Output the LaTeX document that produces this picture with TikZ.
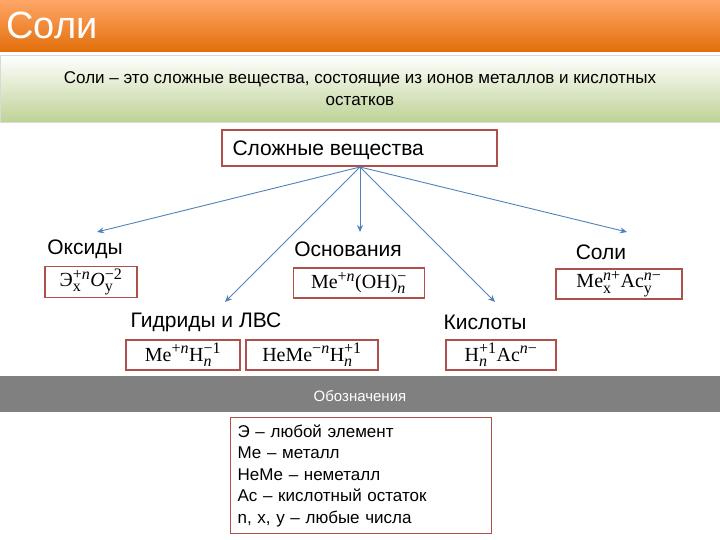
\documentclass[tikz,border=0pt]{standalone}
\usepackage{amsmath}
\usepackage{fontspec}
\setmainfont{Liberation Sans}
\newfontfamily\fmla{Liberation Serif}
\usetikzlibrary{arrows.meta}
\definecolor{bred}{HTML}{B0504D}
\definecolor{ablue}{HTML}{4F81BD}
\newcommand{\su}[2]{$^{\text{\fmla\fontsize{16}{16}\selectfont #1}}_{\text{\fmla\fontsize{16}{16}\selectfont #2}}$}
\begin{document}
\begin{tikzpicture}[x=1pt,y=-1pt,
  fbox/.style={draw=bred,line width=1.2pt,fill=white,font=\fmla\fontsize{20}{22}\selectfont,inner sep=2pt,minimum height=30},
  lab/.style={font=\fontsize{21}{23}\selectfont},
  arr/.style={draw=ablue,line width=0.9pt,-{Stealth[length=7pt,width=6pt]}}]
\useasboundingbox (0,0) rectangle (720,540);
\shade[top color=orange!55!white!90!red, bottom color={rgb,255:red,226;green,110;blue,10}] (0,0) rectangle (720,52);
\node[anchor=west,text=white,font=\fontsize{38}{40}\selectfont] (title) at (3,25) {Соли};
\shade[top color=white, bottom color={rgb,255:red,190;green,210;blue,150}] (0,55) rectangle (720,122);
\draw[black!15] (0,55) rectangle (720,122);
\node[align=center,font=\fontsize{17}{22}\selectfont] (def) at (360,89) {Соли -- это сложные вещества, состоящие из ионов металлов и кислотных\\остатков};
\draw[bred,line width=1.2pt] (222,130) rectangle (497,166);
\node[lab,anchor=west] (top) at (229,150) {Сложные вещества};
\coordinate (o) at (360,167);
\node[lab] (ox) at (85,249) {Оксиды};
\node[lab] (os) at (348,249) {Основания};
\node[lab] (so) at (601,252) {Соли};
\node[lab] (gi) at (206,322) {Гидриды и ЛВС};
\node[lab] (ki) at (485,322) {Кислоты};
\coordinate (a1) at (97,232); \coordinate (a2) at (360,232); \coordinate (a3) at (627,232);
\coordinate (a4) at (225,302); \coordinate (a5) at (495,302);
\foreach \t in {a1,a2,a3,a4,a5} \draw[arr] (o) -- (\t);
\node[fbox,minimum width=92] (f1) at (91,282) {Э\su{+\textit{n}}{x}\textit{O}\su{−2}{y}};
\node[fbox,minimum width=131] (f2) at (359,283) {Me\su{+\textit{n}}{}(OH)\su{−}{\textit{n}}};
\node[fbox,minimum width=126] (f3) at (619,284) {Me\su{\textit{n}+}{x}Ac\su{\textit{n}−}{y}};
\node[fbox,minimum width=114] (f4) at (183,355) {Me\su{+\textit{n}}{}H\su{−1}{\textit{n}}};
\node[fbox,minimum width=132] (f5) at (312,355) {HeMe\su{−\textit{n}}{}H\su{+1}{\textit{n}}};
\node[fbox,minimum width=110] (f6) at (501,355) {H\su{+1}{\textit{n}}Ac\su{\textit{n}−}{}};
\fill[black!50] (0,376) rectangle (720,412);
\node[text=white,font=\fontsize{15}{16}\selectfont] (ob) at (360,396) {Обозначения};
\node[draw=bred,line width=1.2pt,anchor=north west,minimum width=261,minimum height=116,text width=247,align=left,inner sep=6pt,font=\fontsize{17}{21.5}\selectfont] (leg) at (230,417) {Э -- любой элемент\\Ме -- металл\\НеМе -- неметалл\\Ас -- кислотный остаток\\n, x, y -- любые числа};
\end{tikzpicture}
\end{document}
